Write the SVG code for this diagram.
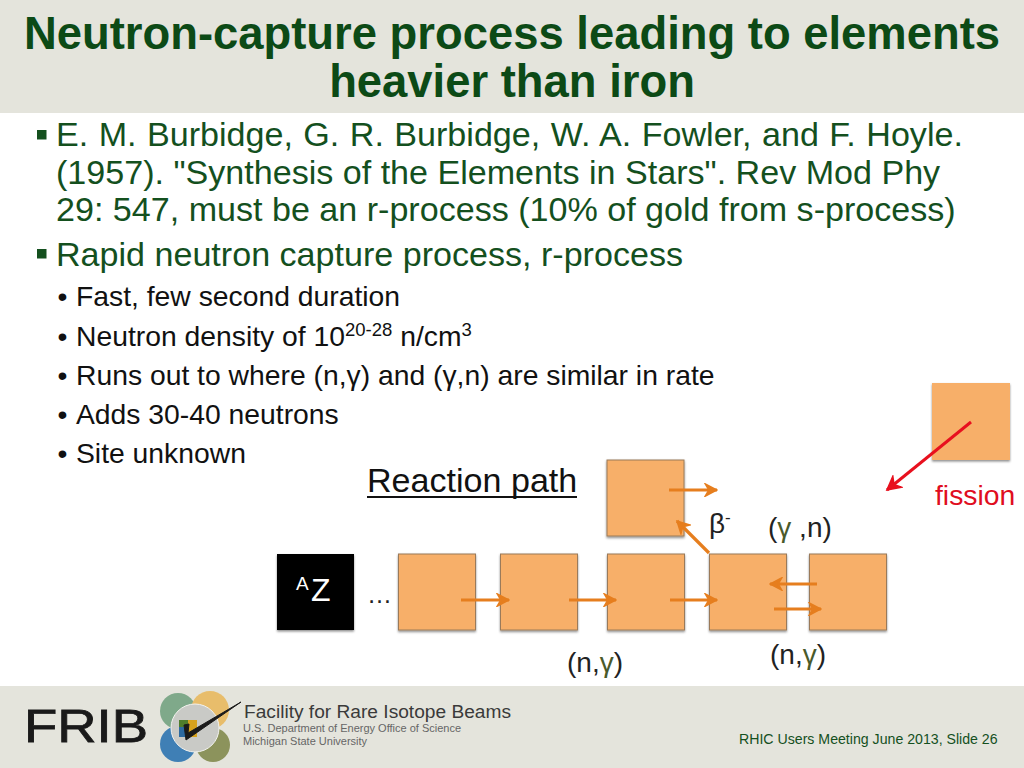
<svg xmlns="http://www.w3.org/2000/svg" width="1024" height="768" viewBox="0 0 1024 768">
<defs>
<filter id="sh" x="-10%" y="-10%" width="125%" height="125%"><feDropShadow dx="0" dy="1.5" stdDeviation="1.2" flood-color="#000" flood-opacity="0.45"/></filter>
<marker id="ah" viewBox="0 0 10 10" refX="9" refY="5" markerWidth="4.6" markerHeight="4.6" orient="auto"><path d="M1 0.8L9 5L1 9.2L3.5 5Z" fill="#e67e1e" stroke="#e67e1e"/></marker>
<marker id="ar" viewBox="0 0 10 10" refX="9" refY="5" markerWidth="5.4" markerHeight="5.4" orient="auto"><path d="M1 0.8L9 5L1 9.2L3.5 5Z" fill="#e8101e" stroke="#e8101e"/></marker>
</defs>
<style>
text{font-family:"Liberation Sans",Arial,sans-serif}
.box{fill:#f7af69;stroke:#9a7a5a;stroke-width:1;filter:url(#sh)}
.g{fill:#14501e;font-size:34.1px}
.k{fill:#111;font-size:28.3px}
.l{fill:#222;font-size:28px}
.c{stroke:#e67e1e;stroke-width:3.2;fill:none;marker-end:url(#ah)}
</style>
<rect width="1024" height="113" fill="#e4e4dc"/>
<rect y="686" width="1024" height="82" fill="#e4e4dc"/>
<g id="title" fill="#0c4a16" font-size="45.4" font-weight="bold" text-anchor="middle">
<text x="512" y="49">Neutron-capture process leading to elements</text>
<text x="512" y="97">heavier than iron</text>
</g>
<g id="bullets">
<rect x="37" y="130" width="9.500" height="9.500" fill="#14501e"/>
<text class="g" x="56" y="146" word-spacing="1">E. M. Burbidge, G. R. Burbidge, W. A. Fowler, and F. Hoyle.</text>
<text class="g" x="56" y="184">(1957). "Synthesis of the Elements in Stars". Rev Mod Phy</text>
<text class="g" x="56" y="221">29: 547, must be an r-process (10% of gold from s-process)</text>
<rect x="37" y="249" width="9.500" height="9.500" fill="#14501e"/>
<text class="g" x="56" y="266">Rapid neutron capture process, r-process</text>
<text class="k" x="57.500" y="306">•</text><text class="k" x="76" y="306">Fast, few second duration</text>
<text class="k" x="57.500" y="346">•</text><text class="k" x="76" y="346">Neutron density of 10<tspan font-size="18.500" dy="-10">20-28</tspan><tspan dy="10"> n/cm</tspan><tspan font-size="18.500" dy="-10">3</tspan></text>
<text class="k" x="57.500" y="385">•</text><text class="k" x="76" y="385">Runs out to where (n,γ) and (γ,n) are similar in rate</text>
<text class="k" x="57.500" y="424">•</text><text class="k" x="76" y="424">Adds 30-40 neutrons</text>
<text class="k" x="57.500" y="463">•</text><text class="k" x="76" y="463">Site unknown</text>
</g>
<g id="path-title"><text x="367" y="492" font-size="34.100" fill="#111">Reaction path</text><rect x="367" y="496" width="210" height="2" fill="#111"/></g>
<g id="az"><rect x="277" y="554" width="77" height="76" fill="#000" filter="url(#sh)"/><text x="296" y="590" font-size="19" fill="#fff">A</text><text x="311" y="601" font-size="32" fill="#fff">Z</text></g>
<g id="dots"><text x="367" y="603" font-size="25" fill="#222">…</text></g>
<g id="n1"><rect class="box" x="398.500" y="554" width="77" height="76"/></g>
<g id="n2"><rect class="box" x="500.500" y="554" width="77" height="76"/></g>
<g id="n3"><rect class="box" x="607.500" y="554" width="77" height="76"/></g>
<g id="n4"><rect class="box" x="709.500" y="554" width="77" height="76"/></g>
<g id="n5"><rect class="box" x="809.500" y="554" width="77" height="76"/></g>
<g id="n6"><rect class="box" x="607" y="460" width="77" height="76"/></g>
<g id="n7"><rect x="932" y="383" width="78" height="77" fill="#f7af69" filter="url(#sh)"/></g>
<g id="connectors">
<path class="c" d="M461 600H509"/>
<path class="c" d="M569 600H616"/>
<path class="c" d="M670 600H717"/>
<path class="c" d="M669 490H717"/>
<path class="c" d="M709 553L677 521"/>
<path class="c" d="M817 584H770"/>
<path class="c" d="M774 609H821"/>
<path d="M971 422L887 490" stroke="#e8101e" stroke-width="3" fill="none" marker-end="url(#ar)"/>
</g>
<g id="labels">
<text x="935" y="505" font-size="28.300" fill="#e00d20">fission</text>
<text x="709" y="533" class="l">β<tspan font-size="17" dy="-10">-</tspan></text>
<text x="768" y="537" class="l">(<tspan fill="#4a5a2a">γ</tspan> ,n)</text>
<text x="770" y="664" class="l">(n,<tspan fill="#4a5a2a">γ</tspan>)</text>
<text x="567" y="672" class="l">(n,<tspan fill="#4a5a2a">γ</tspan>)</text>
</g>
<g id="logo">
<text x="24" y="742" font-size="47" fill="#1a1a1a" stroke="#1a1a1a" stroke-width="0.8" textLength="124" lengthAdjust="spacingAndGlyphs">FRIB</text>
<circle cx="178" cy="711" r="18" fill="#7fa98a"/>
<circle cx="210" cy="710" r="19" fill="#e8bd6b"/>
<circle cx="178" cy="744" r="18" fill="#3f7fb5"/>
<circle cx="213" cy="745" r="17" fill="#8c935c"/>
<circle cx="195" cy="728" r="24" fill="#c9cac6" stroke="#f2f2ee" stroke-width="1"/>
<rect x="179" y="720" width="9" height="7" fill="#4f7d2c"/><rect x="188" y="720" width="9" height="17" fill="#d6a21e"/><rect x="179" y="727" width="9" height="10" fill="#2d6aa0"/>
<path d="M184 725L186 740L241 702L188 733L189 724Z" fill="#1a1a1a" stroke="#1a1a1a" stroke-width="1"/>
<text x="244" y="718" font-size="17.500" fill="#3a3a3a" textLength="267" lengthAdjust="spacingAndGlyphs">Facility for Rare Isotope Beams</text>
<text x="243" y="732" font-size="11" fill="#666">U.S. Department of Energy Office of Science</text>
<text x="243" y="745" font-size="11" fill="#666">Michigan State University</text>
</g>
<g id="footer"><text x="739" y="744" font-size="14.150" fill="#14501e">RHIC Users Meeting June 2013, Slide 26</text></g>
</svg>
